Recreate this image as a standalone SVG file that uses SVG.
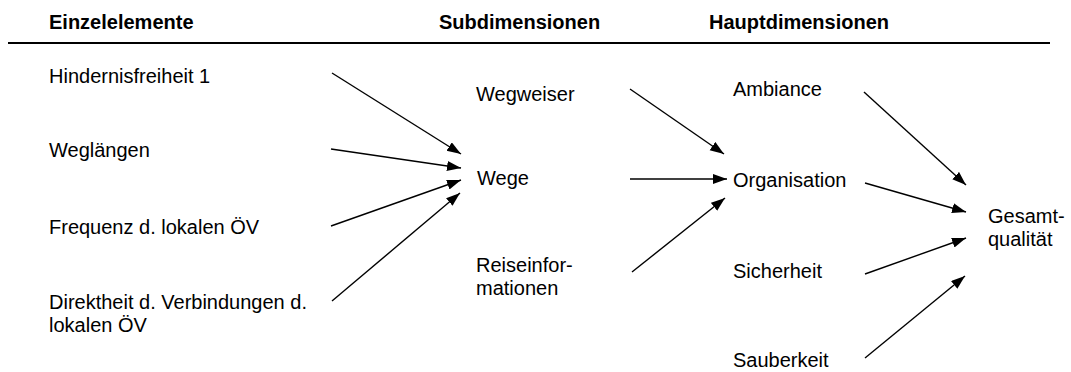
<svg xmlns="http://www.w3.org/2000/svg" width="1071" height="372" viewBox="0 0 1071 372">
<style>
text{font-family:"Liberation Sans",Arial,sans-serif;font-size:20px;fill:#000}
.h{font-weight:bold}
.c line{stroke:#000;stroke-width:1.4;marker-end:url(#ah)}
</style>
<defs>
<marker id="ah" markerUnits="userSpaceOnUse" markerWidth="15" markerHeight="11" refX="14" refY="5" orient="auto">
<path d="M0,0 L14,5 L0,10 z" fill="#000"/>
</marker>
</defs>
<rect width="1071" height="372" fill="#fff"/>
<g id="header">
<text class="h" x="49" y="29">Einzelelemente</text>
<text class="h" x="439" y="29">Subdimensionen</text>
<text class="h" x="709" y="29">Hauptdimensionen</text>
<line x1="8" y1="43" x2="1050" y2="43" stroke="#000" stroke-width="2"/>
</g>
<g id="n-hindernis"><text x="49" y="83">Hindernisfreiheit 1</text></g>
<g id="n-weglaengen"><text x="49" y="157">Weglängen</text></g>
<g id="n-frequenz"><text x="49" y="234">Frequenz d. lokalen ÖV</text></g>
<g id="n-direktheit"><text x="49" y="309">Direktheit d. Verbindungen d.</text><text x="49" y="332">lokalen ÖV</text></g>
<g id="n-wegweiser"><text x="476" y="101">Wegweiser</text></g>
<g id="n-wege"><text x="477" y="185">Wege</text></g>
<g id="n-reiseinfo"><text x="476" y="272">Reiseinfor-</text><text x="476" y="295">mationen</text></g>
<g id="n-ambiance"><text x="733" y="96">Ambiance</text></g>
<g id="n-organisation"><text x="733" y="187">Organisation</text></g>
<g id="n-sicherheit"><text x="733" y="278">Sicherheit</text></g>
<g id="n-sauberkeit"><text x="733" y="367">Sauberkeit</text></g>
<g id="n-gesamt"><text x="988" y="223">Gesamt-</text><text x="988" y="246">qualität</text></g>
<g id="connectors" class="c">
<line x1="332" y1="73" x2="461" y2="154"/>
<line x1="331" y1="149" x2="461" y2="168"/>
<line x1="331" y1="226" x2="461" y2="180"/>
<line x1="332" y1="301" x2="460" y2="193"/>
<line x1="630" y1="89" x2="724" y2="154"/>
<line x1="630" y1="179" x2="727" y2="179"/>
<line x1="632" y1="272" x2="725" y2="198"/>
<line x1="864" y1="92" x2="966" y2="185"/>
<line x1="865" y1="183" x2="966" y2="212"/>
<line x1="865" y1="274" x2="966" y2="238"/>
<line x1="865" y1="358" x2="965" y2="276"/>
</g>
</svg>
